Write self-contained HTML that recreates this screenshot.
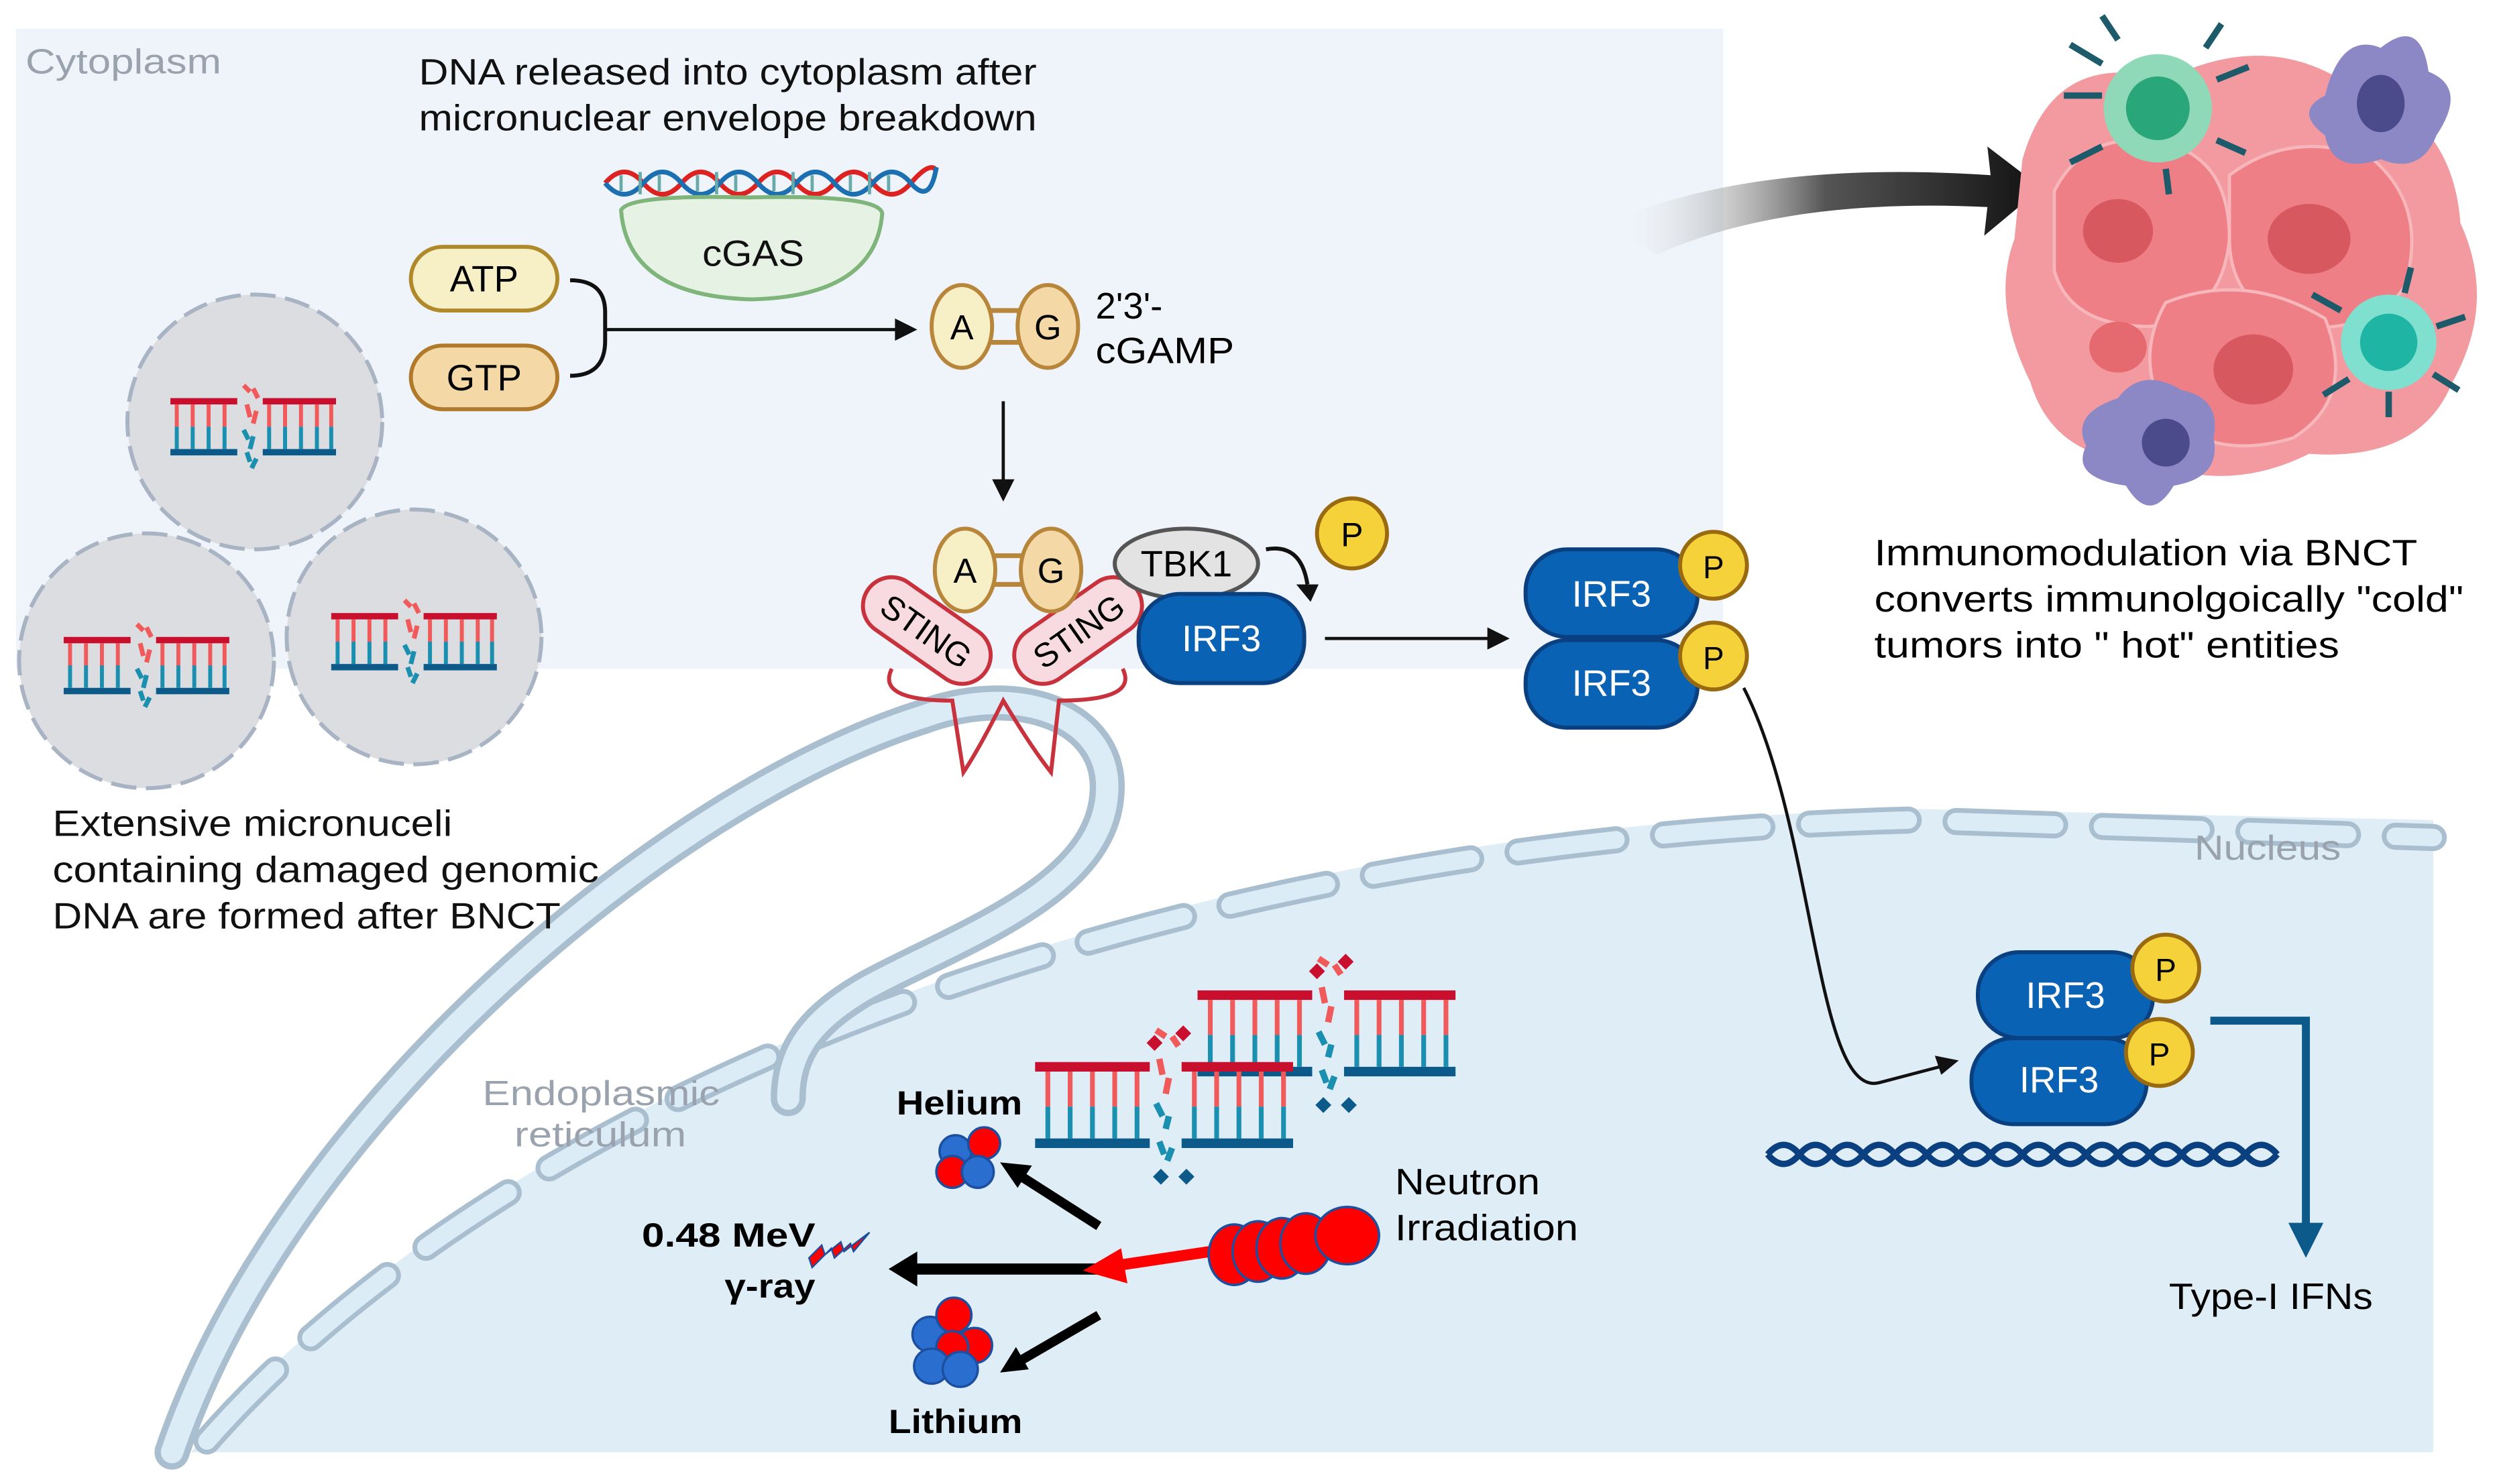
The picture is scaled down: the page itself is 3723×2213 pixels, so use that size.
<!DOCTYPE html>
<html><head><meta charset="utf-8"><style>
html,body{margin:0;padding:0;background:#fff}
svg{display:block}
text{font-family:"Liberation Sans",Arial,sans-serif}
</style></head><body>
<svg width="3723" height="2213" viewBox="0 0 1568 932" xmlns="http://www.w3.org/2000/svg">
<defs>
<linearGradient id="arr" x1="0" y1="0" x2="1" y2="0">
<stop offset="0" stop-color="#fff" stop-opacity="0"/><stop offset="0.5" stop-color="#555"/><stop offset="1" stop-color="#111"/></linearGradient>
<g id="lad">
<rect x="0" y="0" width="42" height="4" fill="#c8102e"/>
<rect x="0" y="32" width="42" height="4" fill="#0b5a8a"/>
<rect x="58" y="0" width="46" height="4" fill="#c8102e"/>
<rect x="58" y="32" width="46" height="4" fill="#0b5a8a"/>
<g stroke-width="2.5">
<path d="M4 4v14M14 4v14M24 4v14M34 4v14M62 4v14M72 4v14M82 4v14M92 4v14M101 4v14" stroke="#f05a5a"/>
<path d="M4 18v14M14 18v14M24 18v14M34 18v14M62 18v14M72 18v14M82 18v14M92 18v14M101 18v14" stroke="#1a8fb0"/>
</g>
<path d="M46 -8l4 4M52 -6l3 6M48 4l2 8M54 8l-2 8" stroke="#f05a5a" stroke-width="3"/>
<path d="M46 20l3 6M52 24l-2 8M48 34l2 6M54 38l-3 6" stroke="#1a8fb0" stroke-width="3"/>
</g>
<g id="lad2">
<rect x="0" y="0" width="72" height="6" fill="#c8102e"/>
<rect x="0" y="48" width="72" height="6" fill="#0b5a8a"/>
<rect x="92" y="0" width="70" height="6" fill="#c8102e"/>
<rect x="92" y="48" width="70" height="6" fill="#0b5a8a"/>
<g stroke-width="3">
<path d="M8 6v22M22 6v22M36 6v22M50 6v22M64 6v22M100 6v22M114 6v22M128 6v22M142 6v22M156 6v22" stroke="#f05a5a"/>
<path d="M8 28v20M22 28v20M36 28v20M50 28v20M64 28v20M100 28v20M114 28v20M128 28v20M142 28v20M156 28v20" stroke="#1a8fb0"/>
</g>
<path d="M76 -20l6 4M86 -16l4 6M78 -2l2 10M84 10l-2 10" stroke="#f05a5a" stroke-width="4"/>
<path d="M76 26l4 8M84 34l-2 8M78 50l3 8M86 54l-3 8" stroke="#1a8fb0" stroke-width="4"/>
<path d="M70 -12l5 -5 5 5 -5 5z M88 -18l5 -5 5 5 -5 5z" fill="#c8102e"/>
<path d="M74 72l5 -5 5 5 -5 5z M90 72l5 -5 5 5 -5 5z" fill="#0b5a8a"/>
</g>
</defs>

<rect x="10" y="18" width="1072" height="402" fill="#eff4fa"/>
<text x="16" y="46" font-size="22" fill="#9aa3ad" textLength="123" lengthAdjust="spacingAndGlyphs">Cytoplasm</text>

<path d="M120 912 C 300 700 700 520 1200 508 L1528 515 L1528 912 Z" fill="#dfedf6"/>
<path d="M130 905 C 310 700 700 528 1200 515 L1528 526" fill="none" stroke="#a9bfcf" stroke-width="17" stroke-dasharray="62 30" stroke-linecap="round"/>
<path d="M130 905 C 310 700 700 528 1200 515 L1528 526" fill="none" stroke="#dcecf7" stroke-width="11" stroke-dasharray="62 30" stroke-linecap="round"/>
<text x="1378" y="540" font-size="22" fill="#9aa3ad" textLength="92" lengthAdjust="spacingAndGlyphs">Nucleus</text>

<path d="M108 912 C 180 700 420 500 580 450 C 640 428 700 450 695 500 C 690 560 600 590 545 620 C 510 640 495 660 495 690" fill="none" stroke="#a9bfcf" stroke-width="22" stroke-linecap="round"/>
<path d="M108 912 C 180 700 420 500 580 450 C 640 428 700 450 695 500 C 690 560 600 590 545 620 C 510 640 495 660 495 690" fill="none" stroke="#dcecf7" stroke-width="14" stroke-linecap="round"/>
<text x="303" y="694" font-size="22" fill="#9aa3ad" textLength="149" lengthAdjust="spacingAndGlyphs">Endoplasmic</text>
<text x="323" y="720" font-size="22" fill="#9aa3ad" textLength="108" lengthAdjust="spacingAndGlyphs">reticulum</text>

<g fill="#dcdde0" stroke="#a8b4c4" stroke-width="2.5" stroke-dasharray="16 6">
<circle cx="160" cy="265" r="80"/><circle cx="92" cy="415" r="80"/><circle cx="260" cy="400" r="80"/>
</g>
<use href="#lad" x="107" y="250"/>
<use href="#lad" x="40" y="400"/>
<use href="#lad" x="208" y="385"/>
<text font-size="23" fill="#111"><tspan x="33" y="525" textLength="251" lengthAdjust="spacingAndGlyphs">Extensive micronuceli</tspan><tspan x="33" y="554" textLength="343" lengthAdjust="spacingAndGlyphs">containing damaged genomic</tspan><tspan x="33" y="583" textLength="319" lengthAdjust="spacingAndGlyphs">DNA are formed after BNCT</tspan></text>

<text font-size="23" fill="#111"><tspan x="263" y="53" textLength="388" lengthAdjust="spacingAndGlyphs">DNA released into cytoplasm after</tspan><tspan x="263" y="82" textLength="388" lengthAdjust="spacingAndGlyphs">micronuclear envelope breakdown</tspan></text>
<path d="M380 115 q12 -14 24 0 t24 0 t24 0 t24 0 t24 0 t24 0 t24 0 t24 0 t16 -8" fill="none" stroke="#d22" stroke-width="3"/>
<path d="M380 115 q12 14 24 0 t24 0 t24 0 t24 0 t24 0 t24 0 t24 0 t24 0 t16 -10" fill="none" stroke="#1c6fb0" stroke-width="3"/>
<path d="M390 110v10M402 108v14M414 110v10M438 110v10M450 108v14M462 110v10M486 110v10M498 108v14M510 110v10M534 110v10M546 108v14M558 110v10" stroke="#6aa" stroke-width="2"/>
<path d="M390 132 Q 395 122 470 124 Q 552 122 554 134 Q 550 186 472 188 Q 394 186 390 132 Z" fill="#e6f3e4" stroke="#7fb47a" stroke-width="2.5"/>
<text x="441" y="167" font-size="23" fill="#111" textLength="64" lengthAdjust="spacingAndGlyphs">cGAS</text>

<rect x="258" y="155" width="92" height="40" rx="20" fill="#f7efc6" stroke="#b08a2a" stroke-width="2.5"/>
<text x="304" y="183" font-size="23" text-anchor="middle">ATP</text>
<rect x="258" y="217" width="92" height="40" rx="20" fill="#f4d9a6" stroke="#b07a2a" stroke-width="2.5"/>
<text x="304" y="245" font-size="23" text-anchor="middle">GTP</text>
<path d="M358 176 q22 0 22 20 v18 q0 22 -22 22" fill="none" stroke="#111" stroke-width="2.5"/>
<path d="M380 207 H563" stroke="#111" stroke-width="2"/><path d="M576 207 l-14 -7 v14z" fill="#111"/>

<g stroke-width="2.5">
<rect x="610" y="195" width="30" height="20" fill="none" stroke="#b8863a" stroke-width="3"/>
<ellipse cx="604" cy="205" rx="19" ry="26" fill="#f7efc6" stroke="#b8863a"/>
<ellipse cx="658" cy="205" rx="19" ry="26" fill="#f4d9a6" stroke="#b8863a"/>
</g>
<text x="604" y="213" font-size="22" text-anchor="middle">A</text>
<text x="658" y="213" font-size="22" text-anchor="middle">G</text>
<text font-size="23"><tspan x="688" y="200">2'3'-</tspan><tspan x="688" y="228" textLength="87" lengthAdjust="spacingAndGlyphs">cGAMP</tspan></text>
<path d="M630 252 V302" stroke="#111" stroke-width="2"/><path d="M630 315 l-7 -14 h14z" fill="#111"/>

<path d="M560 420 Q 550 440 598 440 L 605 485 Q 615 470 630 440 Q 648 470 660 485 L 665 440 Q 715 440 705 420" fill="none" stroke="#c8323c" stroke-width="2.5"/>
<g transform="rotate(35 582 396)"><rect x="537" y="378" width="90" height="36" rx="18" fill="#f8dbe0" stroke="#c8323c" stroke-width="2.5"/><text x="582" y="404" font-size="21" text-anchor="middle">STING</text></g>
<g transform="rotate(-35 677 396)"><rect x="632" y="378" width="90" height="36" rx="18" fill="#f8dbe0" stroke="#c8323c" stroke-width="2.5"/><text x="677" y="404" font-size="21" text-anchor="middle">STING</text></g>
<rect x="612" y="349" width="40" height="18" fill="none" stroke="#b8863a" stroke-width="3"/>
<ellipse cx="606" cy="358" rx="19" ry="26" fill="#f7efc6" stroke="#b8863a" stroke-width="2.5"/>
<ellipse cx="660" cy="358" rx="19" ry="26" fill="#f4d9a6" stroke="#b8863a" stroke-width="2.5"/>
<text x="606" y="366" font-size="22" text-anchor="middle">A</text>
<text x="660" y="366" font-size="22" text-anchor="middle">G</text>
<ellipse cx="745" cy="354" rx="45" ry="22" fill="#e3e3e3" stroke="#555" stroke-width="2.5"/>
<text x="745" y="362" font-size="23" text-anchor="middle">TBK1</text>
<rect x="715" y="373" width="104" height="56" rx="26" fill="#0a62b5" stroke="#0a3f80" stroke-width="2.5"/>
<text x="767" y="409" font-size="23" text-anchor="middle" fill="#fff">IRF3</text>
<path d="M795 345 q22 -4 26 22" fill="none" stroke="#111" stroke-width="2.5"/><path d="M823 378 l-9 -11 h14z" fill="#111"/>
<circle cx="849" cy="335" r="22" fill="#f6d23a" stroke="#9a6a10" stroke-width="2.5"/>
<text x="849" y="343" font-size="21" text-anchor="middle">P</text>
<path d="M832 401 H935" stroke="#111" stroke-width="2"/><path d="M948 401 l-14 -7 v14z" fill="#111"/>

<rect x="958" y="345" width="108" height="55" rx="26" fill="#0a62b5" stroke="#0a3f80" stroke-width="2.5"/>
<text x="1012" y="381" font-size="23" text-anchor="middle" fill="#fff">IRF3</text>
<rect x="958" y="402" width="108" height="55" rx="26" fill="#0a62b5" stroke="#0a3f80" stroke-width="2.5"/>
<text x="1012" y="437" font-size="23" text-anchor="middle" fill="#fff">IRF3</text>
<circle cx="1076" cy="355" r="21" fill="#f6d23a" stroke="#9a6a10" stroke-width="2.5"/><text x="1076" y="363" font-size="20" text-anchor="middle">P</text>
<circle cx="1076" cy="412" r="21" fill="#f6d23a" stroke="#9a6a10" stroke-width="2.5"/><text x="1076" y="420" font-size="20" text-anchor="middle">P</text>
<path d="M1095 432 C 1140 520 1140 690 1180 680 L1218 670" fill="none" stroke="#111" stroke-width="2"/><path d="M1230 666 l-15 -3 4 12z" fill="#111"/>

<rect x="1242" y="598" width="110" height="54" rx="26" fill="#0a62b5" stroke="#0a3f80" stroke-width="2.5"/>
<text x="1297" y="633" font-size="23" text-anchor="middle" fill="#fff">IRF3</text>
<rect x="1238" y="652" width="110" height="54" rx="26" fill="#0a62b5" stroke="#0a3f80" stroke-width="2.5"/>
<text x="1293" y="686" font-size="23" text-anchor="middle" fill="#fff">IRF3</text>
<circle cx="1360" cy="608" r="21" fill="#f6d23a" stroke="#9a6a10" stroke-width="2.5"/><text x="1360" y="616" font-size="20" text-anchor="middle">P</text>
<circle cx="1356" cy="661" r="21" fill="#f6d23a" stroke="#9a6a10" stroke-width="2.5"/><text x="1356" y="669" font-size="20" text-anchor="middle">P</text>
<path d="M1110 725 q10 -12 20 0 t20 0 t20 0 t20 0 t20 0 t20 0 t20 0 t20 0 t20 0 t20 0 t20 0 t20 0 t20 0 t20 0 t20 0 t20 0" fill="none" stroke="#0a3f80" stroke-width="4"/>
<path d="M1110 725 q10 12 20 0 t20 0 t20 0 t20 0 t20 0 t20 0 t20 0 t20 0 t20 0 t20 0 t20 0 t20 0 t20 0 t20 0 t20 0 t20 0" fill="none" stroke="#0a3f80" stroke-width="4"/>
<path d="M1388 641 H1448 V770" fill="none" stroke="#0b5a8a" stroke-width="5"/><path d="M1448 790 l-11 -22 h22z" fill="#0b5a8a"/>
<text x="1362" y="822" font-size="23" textLength="128" lengthAdjust="spacingAndGlyphs">Type-I IFNs</text>

<use href="#lad2" x="752" y="622"/>
<use href="#lad2" x="650" y="667"/>

<text x="563" y="700" font-size="21" font-weight="bold" textLength="79" lengthAdjust="spacingAndGlyphs">Helium</text>
<g stroke="#1c4fa0" stroke-width="1.5"><circle cx="600" cy="723" r="10" fill="#2a6fd0"/><circle cx="618" cy="718" r="10" fill="#ff0000"/><circle cx="598" cy="736" r="10" fill="#ff0000"/><circle cx="614" cy="736" r="10" fill="#2a6fd0"/></g>
<path d="M690 770 L640 738" stroke="#000" stroke-width="6"/><path d="M628 730 l20 2 -9 14z" fill="#000"/>
<text x="558" y="900" font-size="21" font-weight="bold" textLength="84" lengthAdjust="spacingAndGlyphs">Lithium</text>
<g stroke="#1c4fa0" stroke-width="1.5"><circle cx="584" cy="838" r="11" fill="#2a6fd0"/><circle cx="599" cy="826" r="11" fill="#ff0000"/><circle cx="612" cy="845" r="11" fill="#ff0000"/><circle cx="598" cy="846" r="10" fill="#ff0000"/><circle cx="585" cy="858" r="11" fill="#2a6fd0"/><circle cx="603" cy="860" r="11" fill="#2a6fd0"/></g>
<path d="M690 826 L640 855" stroke="#000" stroke-width="6"/><path d="M628 862 l10 -16 8 14z" fill="#000"/>
<path d="M690 797 H572" stroke="#000" stroke-width="7"/><path d="M558 797 l18 -11 v22z" fill="#000"/>
<text x="403" y="783" font-size="21" font-weight="bold" textLength="109" lengthAdjust="spacingAndGlyphs">0.48 MeV</text>
<text x="455" y="815" font-size="21" font-weight="bold" textLength="57" lengthAdjust="spacingAndGlyphs">γ-ray</text>
<path d="M508 790 l8 -8 l2 6 l10 -8 l2 6 l16 -12 l-10 12 l-2 -5 l-10 9 l-2 -6 l-12 12z" fill="#ff0000" stroke="#1c4fa0" stroke-width="1"/>
<path d="M760 786 L700 795" stroke="#ff0000" stroke-width="7"/><path d="M680 798 l24 -14 4 22z" fill="#ff0000"/>
<g fill="#ff0000" stroke="#1c4fa0" stroke-width="1.5">
<ellipse cx="775" cy="788" rx="16" ry="19"/><ellipse cx="790" cy="786" rx="16" ry="19"/><ellipse cx="805" cy="784" rx="16" ry="19"/><ellipse cx="820" cy="781" rx="16" ry="19"/><ellipse cx="846" cy="776" rx="20" ry="18"/>
</g>
<text font-size="23"><tspan x="876" y="750" textLength="91" lengthAdjust="spacingAndGlyphs">Neutron</tspan><tspan x="876" y="779" textLength="115" lengthAdjust="spacingAndGlyphs">Irradiation</tspan></text>

<path d="M1010 140 Q 1100 100 1250 110 L1248 92 L1282 118 L1246 148 L1248 130 Q 1120 124 1040 160 Z" fill="url(#arr)"/>

<g>
<path d="M1270 100 Q1290 30 1360 50 Q1420 20 1470 50 Q1540 70 1545 140 Q1568 190 1540 240 Q1520 290 1450 285 Q1400 310 1350 290 Q1290 290 1275 240 Q1250 190 1265 150 Z" fill="#f29aa0"/>
<path d="M1290 120 Q1310 80 1360 90 Q1400 100 1400 150 Q1395 200 1350 205 Q1300 205 1290 170 Z" fill="#ef7f86" stroke="#f6b6ba" stroke-width="2"/>
<path d="M1400 110 Q1440 80 1490 100 Q1525 130 1510 180 Q1490 210 1440 205 Q1400 190 1400 150 Z" fill="#ef7f86" stroke="#f6b6ba" stroke-width="2"/>
<path d="M1360 190 Q1410 170 1460 200 Q1480 250 1440 275 Q1390 290 1360 260 Q1340 225 1360 190 Z" fill="#ef7f86" stroke="#f6b6ba" stroke-width="2"/>
<ellipse cx="1330" cy="145" rx="22" ry="20" fill="#d8585f"/>
<ellipse cx="1450" cy="150" rx="26" ry="22" fill="#d8585f"/>
<ellipse cx="1415" cy="232" rx="25" ry="22" fill="#d8585f"/>
<ellipse cx="1330" cy="218" rx="18" ry="16" fill="#e56a70"/>
<circle cx="1355" cy="68" r="34" fill="#8fd9b8"/><circle cx="1355" cy="68" r="20" fill="#2aa77a"/>
<g stroke="#1d5a6a" stroke-width="4"><path d="M1320 40 l-20 -12M1330 25 l-10 -15M1385 30 l10 -15M1392 50 l20 -8M1392 88 l18 8M1320 92 l-20 10M1320 60 l-24 0M1360 106 l2 16"/></g>
<circle cx="1500" cy="215" r="30" fill="#7fe0d0"/><circle cx="1500" cy="215" r="18" fill="#1fb5a5"/>
<g stroke="#1d5a6a" stroke-width="4"><path d="M1470 195 l-18 -10M1510 184 l4 -16M1530 205 l18 -6M1528 235 l16 10M1475 238 l-16 10M1500 246 l0 16"/></g>
<path d="M1460 60 Q1470 20 1495 30 Q1520 10 1525 45 Q1550 55 1530 85 Q1520 110 1495 100 Q1465 110 1460 85 Q1440 70 1460 60Z" fill="#8c88c6"/>
<ellipse cx="1495" cy="65" rx="15" ry="18" fill="#4b4a8a"/>
<path d="M1330 250 Q1345 230 1370 245 Q1395 250 1390 275 Q1395 300 1365 305 Q1350 330 1335 305 Q1300 300 1310 280 Q1300 260 1330 250Z" fill="#8c88c6"/>
<ellipse cx="1360" cy="278" rx="15" ry="15" fill="#4b4a8a"/>
</g>
<text font-size="23"><tspan x="1177" y="355" textLength="341" lengthAdjust="spacingAndGlyphs">Immunomodulation via BNCT</tspan><tspan x="1177" y="384" textLength="370" lengthAdjust="spacingAndGlyphs">converts immunolgoically "cold"</tspan><tspan x="1177" y="413" textLength="292" lengthAdjust="spacingAndGlyphs">tumors into " hot" entities</tspan></text>
</svg>
</body></html>
